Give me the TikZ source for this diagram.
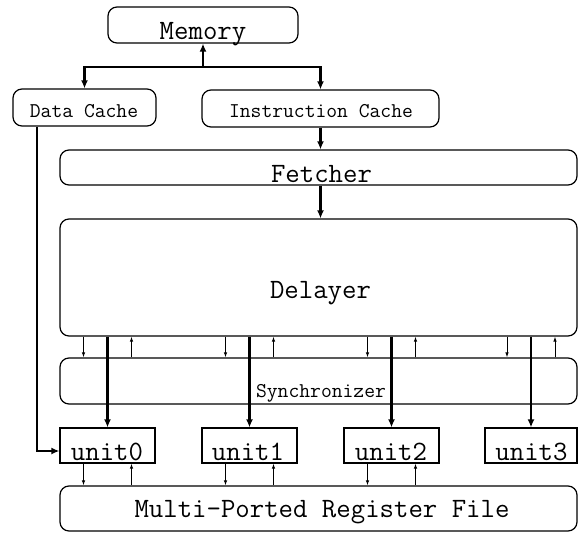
\documentclass[tikz,border=0pt]{standalone}
\usetikzlibrary{arrows.meta,calc}

\begin{document}
\begin{tikzpicture}[x=1pt, y=-1pt,
	blk/.style={draw, line width=1.2pt, rounded corners=9pt, inner sep=0pt},
	ubox/.style={draw, line width=1.2pt, inner sep=0pt, minimum width=95pt, minimum height=35pt},
	lbl/.style={font=\ttfamily\fontsize{28}{30}\selectfont, inner sep=0pt, anchor=base},
	slbl/.style={font=\ttfamily\fontsize{21}{24}\selectfont, inner sep=0pt, anchor=base},
	bus/.style={line width=2.2pt, -{Latex[length=8pt,width=7pt]}},
	sig/.style={line width=0.9pt, -{Latex[length=5pt,width=3.5pt]}}]
	\useasboundingbox (0,0) rectangle (579,533);
	% boxes
	\node[blk, minimum width=190pt, minimum height=36pt] (mem) at (203,25) {};
	\node[blk, minimum width=143pt, minimum height=37pt] (dcache) at (84.5,107.5) {};
	\node[blk, minimum width=237pt, minimum height=37pt] (icache) at (320.5,108.5) {};
	\node[blk, minimum width=517pt, minimum height=35pt] (fetch) at (318.5,167.5) {};
	\node[blk, minimum width=517pt, minimum height=117pt] (delay) at (318.5,277.5) {};
	\node[blk, minimum width=517pt, minimum height=46pt] (sync) at (318.5,381) {};
	\node[ubox] (unit0) at (107.5,445.5) {};
	\node[ubox] (unit1) at (249.5,445.5) {};
	\node[ubox] (unit2) at (391.5,445.5) {};
	\node[ubox, minimum width=92pt] (unit3) at (531,445.5) {};
	\node[blk, minimum width=517pt, minimum height=45pt] (reg) at (318.5,508.5) {};
	% texts
	\node[lbl] (memtxt) at (203,39) {Memory};
	\node[slbl] (dctxt) at (84,117) {Data Cache};
	\node[slbl] (ictxt) at (321,117) {Instruction Cache};
	\node[lbl] (fetchtxt) at (321.5,182) {Fetcher};
	\node[lbl] (delaytxt) at (320.5,298) {Delayer};
	\node[slbl] (synctxt) at (321,397) {Synchronizer};
	\foreach \u/\x in {0/107,1/248,2/391,3/531.5}
		\node[lbl] (utxt\u) at (\x,460) {unit\u};
	\node[lbl] (regtxt) at (322,517) {Multi-Ported Register File};
	% connections
	\coordinate (split) at (203,67);
	\draw[bus] (split) -- (mem.south);
	\draw[bus] (split) -| (dcache.north);
	\draw[bus] (split) -| (icache.north);
	\draw[bus] (icache.south) -- (icache.south |- fetch.north);
	\draw[bus] (fetch.south -| icache.south) -- (delay.north -| icache.south);
	\draw[bus] ([xshift=-47.5pt]dcache.south) |- ([yshift=-5.5pt]unit0.west);
	\foreach \u in {0,...,3} {
		\draw[bus] (delay.south -| unit\u.north) -- (unit\u.north);
		\draw[sig] ($(delay.south -| unit\u.north)+(-24,0)$) -- ($(sync.north -| unit\u.north)+(-24,0)$);
		\draw[sig] ($(sync.north -| unit\u.north)+(24,0)$) -- ($(delay.south -| unit\u.north)+(24,0)$);
	}
	\foreach \u in {0,1,2} {
		\draw[sig] ($(unit\u.south)+(-24,0)$) -- ($(reg.north -| unit\u.south)+(-24,0)$);
		\draw[sig] ($(reg.north -| unit\u.south)+(24,0)$) -- ($(unit\u.south)+(24,0)$);
	}
\end{tikzpicture}
\end{document}
